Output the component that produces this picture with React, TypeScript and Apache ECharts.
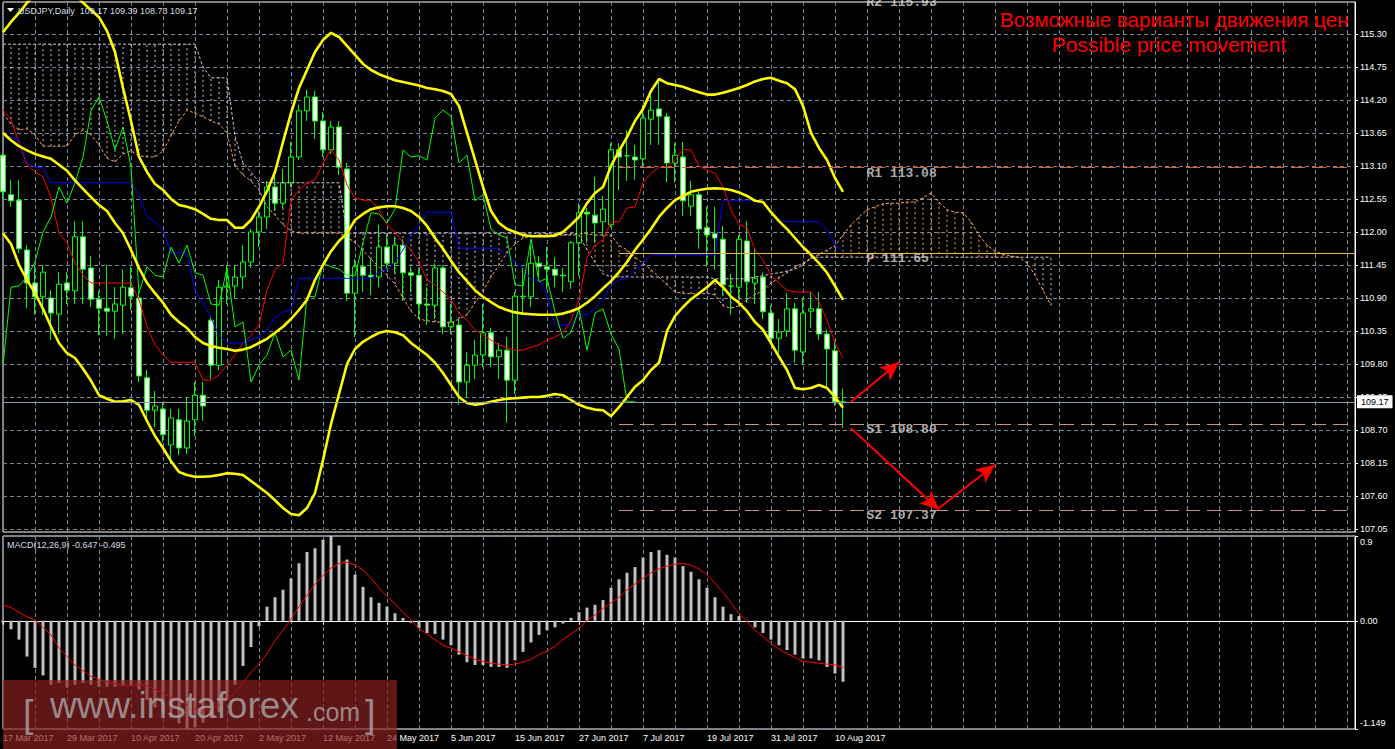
import React, { useEffect, useRef } from "react";
import * as echarts from "echarts";

// ---------- axis / tick data ----------
const dateLabels = [
  "17 Mar 2017", "29 Mar 2017", "10 Apr 2017", "20 Apr 2017", "2 May 2017", "12 May 2017",
  "24 May 2017", "5 Jun 2017", "15 Jun 2017", "27 Jun 2017", "7 Jul 2017", "19 Jul 2017",
  "31 Jul 2017", "10 Aug 2017",
];
const BARS_PER_LABEL = 8;
const TOTAL_SLOTS = 170; // 106 bars + chart shift space
const priceTicks = [107.05, 107.6, 108.15, 108.7, 109.25, 109.8, 110.35, 110.9, 111.45, 112.0, 112.55, 113.1, 113.65, 114.2, 114.75, 115.3];
const macdTicks = [-1.149, 0, 0.9];
const macdTickLabels = ["-1.149", "0.00", "0.9"];

// ---------- USDJPY daily candles (17 Mar 2017 .. 11 Aug 2017) ----------
const opens = [
  113.28, 112.62, 112.53, 111.7, 111.15, 110.92, 110.9, 110.63, 111.15, 111.02,
  111.92, 111.4, 110.88, 110.73, 110.68, 110.78, 111.07, 110.9, 109.57, 109.03,
  109.05, 108.45, 108.87, 108.4, 108.87, 109.28, 110.53, 109.78, 111.08, 111.1,
  111.25, 111.5, 112.0, 112.25, 112.75, 112.48, 112.82, 113.25, 114.02, 114.25,
  113.85, 113.37, 113.75, 113.05, 110.98, 111.42, 111.28, 111.25, 111.75, 111.48,
  111.78, 111.32, 111.28, 110.8, 110.78, 111.4, 110.42, 110.45, 109.5, 109.78,
  109.95, 110.32, 109.92, 110.03, 109.53, 110.93, 110.92, 111.48, 111.42, 111.38,
  111.28, 111.17, 111.82, 112.33, 112.28, 112.17, 112.12, 113.37, 113.27, 113.25,
  113.22, 113.88, 114.05, 113.92, 113.15, 113.25, 112.43, 112.62, 112.07, 111.97,
  111.88, 111.1, 111.08, 111.85, 111.15, 111.25, 110.65, 110.23, 110.35, 110.72,
  110.0, 110.68, 110.72, 110.3, 110.02, 109.17,
];
const closes = [
  112.67, 112.52, 111.72, 111.15, 110.92, 111.33, 110.65, 111.13, 111.03, 111.92,
  111.38, 110.88, 110.73, 110.68, 110.8, 111.08, 110.93, 109.6, 109.03, 109.1,
  108.62, 108.9, 108.4, 108.85, 109.28, 109.1, 109.78, 111.08, 111.1, 111.25,
  111.5, 112.0, 112.25, 112.75, 112.48, 112.82, 113.25, 114.02, 114.25, 113.85,
  113.37, 113.75, 113.08, 110.98, 111.42, 111.28, 111.25, 111.75, 111.48, 111.78,
  111.32, 111.28, 110.8, 110.78, 111.4, 110.42, 110.5, 109.5, 109.78, 109.95,
  110.32, 109.92, 110.03, 109.53, 110.93, 110.92, 111.48, 111.42, 111.38, 111.28,
  111.27, 111.82, 112.32, 112.3, 112.15, 112.38, 113.37, 113.25, 113.27, 113.2,
  113.9, 114.03, 113.93, 113.15, 113.28, 112.52, 112.62, 112.05, 111.95, 111.9,
  111.12, 111.1, 111.88, 111.17, 111.23, 110.67, 110.23, 110.33, 110.72, 110.03,
  110.65, 110.72, 110.3, 110.05, 109.17, 109.17,
];
const lows = [
  112.55, 112.42, 111.65, 110.73, 110.62, 110.62, 110.2, 110.3, 110.8, 110.8,
  110.8, 110.75, 110.28, 110.27, 110.22, 110.3, 110.7, 109.5, 108.9, 108.75,
  108.5, 108.13, 108.28, 108.3, 108.6, 108.85, 109.55, 109.7, 110.8, 110.9,
  111.05, 111.4, 111.75, 112.05, 112.35, 112.4, 112.75, 113.2, 113.85, 113.55,
  113.25, 113.3, 112.95, 110.85, 110.25, 111.0, 110.95, 111.08, 111.4, 111.3,
  110.85, 111.0, 110.55, 110.45, 110.55, 110.3, 110.3, 109.12, 109.25, 109.55,
  109.75, 109.75, 109.55, 108.82, 109.3, 110.62, 110.75, 111.25, 111.05, 111.08,
  111.0, 111.05, 111.27, 111.82, 111.82, 111.95, 112.08, 112.7, 112.85, 112.87,
  113.1, 113.45, 113.45, 112.83, 112.82, 112.27, 112.27, 111.72, 111.42, 111.37,
  110.95, 110.62, 110.88, 110.82, 110.8, 110.55, 110.18, 109.98, 110.25, 109.82,
  109.78, 110.4, 110.2, 109.4, 109.1, 108.73,
];
const highs = [
  113.3, 112.87, 112.87, 111.78, 111.45, 111.45, 111.03, 111.33, 111.33, 112.18,
  112.18, 111.6, 111.02, 111.45, 111.08, 111.38, 111.42, 111.0, 109.7, 109.35,
  109.15, 109.05, 109.05, 109.25, 109.5, 109.5, 110.6, 111.2, 111.45, 111.45,
  111.78, 112.05, 112.35, 112.85, 113.0, 113.05, 113.5, 114.12, 114.37, 114.35,
  114.0, 113.85, 113.85, 113.15, 111.55, 111.72, 111.55, 112.12, 111.95, 111.92,
  111.88, 111.42, 111.38, 111.08, 111.48, 111.42, 110.8, 110.55, 110.0, 110.2,
  110.8, 110.4, 110.15, 110.25, 111.0, 111.42, 111.78, 111.6, 111.75, 111.58,
  111.4, 111.85, 112.48, 112.4, 112.92, 112.6, 113.48, 113.48, 113.7, 113.45,
  114.12, 114.28, 114.5, 113.98, 113.48, 113.5, 112.85, 112.67, 112.42, 112.42,
  112.1, 111.3, 111.95, 112.18, 111.73, 111.32, 110.78, 110.55, 110.98, 110.82,
  110.9, 111.0, 111.0, 110.37, 110.2, 109.39,
];

// ---------- Bollinger bands ----------
const bbUpper = [
  115.33, 115.5, 115.65, 115.82, 115.95, 116.05, 116.12, 116.1, 116.05, 115.95,
  115.82, 115.7, 115.58, 115.35, 115.0, 114.4, 113.85, 113.25, 113.0, 112.8,
  112.7, 112.55, 112.45, 112.42, 112.38, 112.3, 112.22, 112.2, 112.2, 112.07,
  112.07, 112.2, 112.42, 112.68, 113.0, 113.5, 113.98, 114.4, 114.7, 115.0,
  115.2, 115.32, 115.25, 115.1, 114.95, 114.8, 114.7, 114.63, 114.58, 114.53,
  114.5, 114.47, 114.44, 114.4, 114.38, 114.35, 114.3, 114.1, 113.65, 113.2,
  112.75, 112.35, 112.15, 112.05, 112.0, 111.95, 111.93, 111.93, 111.93, 111.94,
  112.0, 112.12, 112.25, 112.48, 112.65, 112.75, 113.1, 113.35, 113.58, 113.85,
  114.05, 114.35, 114.55, 114.48, 114.45, 114.42, 114.37, 114.33, 114.29, 114.29,
  114.32, 114.36, 114.4, 114.45, 114.51, 114.55, 114.57, 114.52, 114.48, 114.38,
  114.1, 113.65, 113.4, 113.2, 112.9, 112.67,
];
const bbMiddle = [
  113.65, 113.53, 113.43, 113.36, 113.3, 113.26, 113.22, 113.12, 113.02, 112.86,
  112.72, 112.58, 112.45, 112.35, 112.15, 111.98, 111.7, 111.4, 111.15, 110.98,
  110.82, 110.62, 110.5, 110.4, 110.25, 110.15, 110.1, 110.07, 110.05, 110.02,
  110.04, 110.08, 110.15, 110.22, 110.32, 110.42, 110.55, 110.7, 110.87, 111.2,
  111.45, 111.68, 111.85, 111.98, 112.2, 112.3, 112.38, 112.41, 112.43, 112.43,
  112.4, 112.35, 112.25, 112.1, 111.9, 111.72, 111.52, 111.33, 111.18, 111.03,
  110.92, 110.83, 110.75, 110.7, 110.66, 110.64, 110.63, 110.62, 110.62, 110.62,
  110.64, 110.68, 110.73, 110.82, 110.93, 111.06, 111.18, 111.33, 111.5, 111.7,
  111.87, 112.05, 112.25, 112.4, 112.53, 112.6, 112.67, 112.7, 112.72, 112.73,
  112.72, 112.7, 112.66, 112.6, 112.52, 112.5, 112.33, 112.18, 112.05, 111.9,
  111.75, 111.62, 111.48, 111.32, 111.1, 110.87,
];
const bbLower = [
  111.98, 111.8, 111.45, 111.2, 110.98, 110.72, 110.42, 110.15, 109.98, 109.9,
  109.72, 109.52, 109.28, 109.22, 109.17, 109.18, 109.2, 109.12, 108.85, 108.6,
  108.4, 108.18, 108.0, 107.95, 107.92, 107.92, 107.93, 107.95, 107.98, 107.97,
  107.95, 107.85, 107.75, 107.65, 107.53, 107.4, 107.3, 107.28, 107.4, 107.65,
  108.2, 108.8, 109.3, 109.8, 110.05, 110.17, 110.25, 110.32, 110.35, 110.33,
  110.28, 110.15, 110.05, 109.95, 109.82, 109.65, 109.45, 109.25, 109.15, 109.12,
  109.14, 109.17, 109.2, 109.22, 109.23, 109.24, 109.25, 109.25, 109.27, 109.3,
  109.28, 109.2, 109.12, 109.07, 109.04, 109.03, 108.93, 109.08, 109.25, 109.42,
  109.53, 109.7, 109.82, 110.35, 110.6, 110.75, 110.88, 110.98, 111.08, 111.2,
  111.08, 110.92, 110.82, 110.68, 110.5, 110.37, 110.15, 109.92, 109.7, 109.4,
  109.38, 109.4, 109.45, 109.4, 109.25, 109.07,
];

// ---------- Ichimoku ----------
const tenkan = [
  114.03, 113.87, 113.48, 113.12, 113.0, 112.92, 112.57, 111.98, 111.82, 111.48,
  111.28, 111.15, 111.15, 111.15, 111.15, 111.15, 111.15, 110.87, 110.42, 110.12,
  109.95, 109.83, 109.83, 109.83, 109.83, 109.53, 109.53, 109.62, 109.78, 109.95,
  110.15, 110.28, 110.45, 111.03, 111.37, 111.48, 112.53, 112.7, 112.82, 112.87,
  113.15, 113.37, 113.2, 112.78, 112.57, 112.53, 112.53, 112.37, 112.12, 112.0,
  111.82, 111.7, 111.5, 111.2, 111.12, 111.0, 110.87, 110.65, 110.53, 110.37,
  110.28, 110.2, 110.12, 110.07, 110.03, 110.03, 110.08, 110.12, 110.2, 110.25,
  110.32, 110.53, 110.87, 111.57, 111.78, 111.87, 112.17, 112.17, 112.4, 112.42,
  112.82, 112.98, 113.08, 113.08, 113.2, 113.37, 113.37, 113.1, 113.03, 112.98,
  112.75, 112.37, 112.12, 112.07, 111.7, 111.53, 111.28, 111.15, 111.03, 111.0,
  111.0, 111.0, 110.83, 110.53, 110.15, 109.9,
];
const kijun = [
  113.62, 113.58, 113.53, 113.15, 113.08, 113.07, 112.82, 112.82, 112.82, 112.82,
  112.82, 112.82, 112.82, 112.82, 112.82, 112.82, 112.82, 112.62, 112.25, 112.17,
  112.03, 111.65, 111.65, 111.65, 111.03, 110.82, 110.57, 110.28, 110.15, 110.15,
  110.15, 110.2, 110.25, 110.37, 110.57, 110.67, 110.7, 111.23, 111.23, 111.23,
  111.23, 111.23, 111.23, 111.23, 111.23, 111.23, 111.23, 111.33, 111.37, 111.5,
  111.7, 111.95, 112.12, 112.33, 112.33, 112.33, 112.33, 111.73, 111.73, 111.73,
  111.73, 111.73, 111.73, 111.6, 111.5, 111.4, 111.2, 111.2, 110.95, 110.45,
  110.45, 110.45, 110.62, 110.62, 110.73, 110.87, 111.12, 111.2, 111.23, 111.37,
  111.48, 111.62, 111.62, 111.62, 111.62, 111.62, 111.62, 111.62, 111.62, 111.62,
  112.53, 112.53, 112.53, 112.53, 112.53, 112.48, 112.32, 112.2, 112.17, 112.17,
  112.17, 112.17, 112.17, 112.03, 111.78, 111.67,
];
const senkouA = [
  113.98, 113.8, 113.7, 113.72, 113.62, 113.43, 113.43, 113.43, 113.43, 113.62,
  113.7, 113.62, 113.45, 113.23, 113.17, 113.3, 113.35, 113.27, 113.25, 113.25,
  113.35, 113.6, 113.85, 114.03, 113.98, 113.92, 113.85, 113.8, 113.65, 113.1,
  112.95, 112.85, 112.7, 112.42, 112.28, 112.12, 112.02, 111.98, 111.98, 111.98,
  111.98, 111.98, 111.98, 111.92, 111.82, 111.7, 111.55, 111.42, 111.28, 111.13,
  110.9, 110.68, 110.55, 110.52, 110.5, 110.5, 110.48, 110.55, 110.62, 110.82,
  111.02, 111.25, 111.45, 111.65, 111.8, 111.9, 111.93, 111.95, 111.95, 111.95,
  111.95, 111.97, 111.98, 111.97, 111.95, 111.95, 111.95, 111.78, 111.7, 111.58,
  111.48, 111.37, 111.25, 111.12, 111.0, 110.98, 110.97, 110.97, 110.98, 110.95,
  110.77, 110.73, 110.77, 110.87, 110.95, 111.03, 111.15, 111.23, 111.32, 111.42,
  111.48, 111.55, 111.63, 111.7, 111.77, 111.95, 112.12, 112.25, 112.37, 112.42,
  112.47, 112.48, 112.48, 112.5, 112.5, 112.57, 112.65, 112.5, 112.37, 112.33,
  112.32, 112.17, 111.95, 111.78, 111.68, 111.63, 111.6, 111.58, 111.48, 111.28,
  111.03, 110.78,
];
const senkouB = [
  115.13, 115.13, 115.13, 115.13, 115.13, 115.13, 115.13, 115.13, 115.13, 115.13,
  115.13, 115.13, 115.13, 115.13, 115.13, 115.13, 115.13, 115.13, 115.13, 115.13,
  115.13, 115.13, 115.13, 115.13, 115.13, 114.75, 114.57, 114.57, 114.57, 113.6,
  113.15, 113.0, 112.83, 112.82, 112.82, 112.82, 112.82, 112.82, 112.82, 112.82,
  112.82, 112.82, 112.82, 111.98, 111.98, 111.98, 111.98, 111.98, 111.98, 111.98,
  111.98, 111.98, 111.98, 111.98, 111.98, 111.98, 111.98, 111.98, 111.98, 111.98,
  111.98, 111.98, 111.98, 111.98, 111.98, 111.98, 111.98, 111.98, 111.98, 111.98,
  111.95, 111.95, 111.95, 111.7, 111.5, 111.3, 111.25, 111.25, 111.25, 111.25,
  111.25, 111.25, 111.25, 111.25, 111.25, 111.25, 111.25, 111.25, 111.25, 111.22,
  111.22, 111.22, 111.22, 111.22, 111.25, 111.27, 111.3, 111.32, 111.35, 111.38,
  111.45, 111.58, 111.58, 111.58, 111.58, 111.58, 111.58, 111.58, 111.58, 111.58,
  111.58, 111.58, 111.58, 111.58, 111.58, 111.58, 111.58, 111.58, 111.58, 111.58,
  111.58, 111.58, 111.58, 111.58, 111.58, 111.58, 111.58, 111.58, 111.58, 111.58,
  111.58, 111.58,
];
const CHIKOU_SHIFT = 26;

// ---------- MACD(12,26,9) ----------
const macdMain = [
  -0.02, -0.09, -0.2, -0.38, -0.5, -0.58, -0.68, -0.66, -0.71, -0.68,
  -0.66, -0.68, -0.7, -0.7, -0.7, -0.68, -0.68, -0.73, -0.84, -0.92,
  -0.98, -1.03, -1.09, -1.149, -1.13, -1.08, -1.03, -0.97, -0.84, -0.68,
  -0.48, -0.28, -0.06, 0.15, 0.25, 0.33, 0.45, 0.61, 0.73, 0.77,
  0.86, 0.9, 0.8, 0.65, 0.49, 0.36, 0.25, 0.19, 0.15, 0.08,
  0.03, -0.02, -0.08, -0.13, -0.14, -0.2, -0.26, -0.36, -0.44, -0.47,
  -0.47, -0.49, -0.49, -0.5, -0.42, -0.33, -0.23, -0.15, -0.1, -0.07,
  -0.03, 0.03, 0.09, 0.14, 0.17, 0.22, 0.35, 0.44, 0.51, 0.57,
  0.67, 0.73, 0.75, 0.7, 0.67, 0.58, 0.52, 0.44, 0.35, 0.25,
  0.15, 0.07, 0.05, -0.01, -0.07, -0.13, -0.2, -0.26, -0.31, -0.36,
  -0.4, -0.4, -0.42, -0.49, -0.56, -0.647,
];
const macdSignal = [
  0.17, 0.14, 0.09, 0.04, 0.01, -0.07, -0.15, -0.29, -0.38, -0.47,
  -0.53, -0.59, -0.62, -0.65, -0.67, -0.69, -0.69, -0.68, -0.69, -0.73,
  -0.77, -0.81, -0.85, -0.89, -0.93, -0.95, -0.94, -0.89, -0.84, -0.76,
  -0.66, -0.55, -0.46, -0.35, -0.21, -0.1, 0.02, 0.15, 0.27, 0.39,
  0.48, 0.56, 0.61, 0.62, 0.59, 0.54, 0.45, 0.35, 0.26, 0.18,
  0.09, 0.01, -0.08, -0.14, -0.2, -0.26, -0.29, -0.33, -0.37, -0.41,
  -0.43, -0.45, -0.46, -0.47, -0.46, -0.44, -0.41, -0.36, -0.32, -0.27,
  -0.2, -0.14, -0.08, 0.0, 0.06, 0.13, 0.19, 0.25, 0.33, 0.39,
  0.45, 0.51, 0.55, 0.58, 0.6, 0.61, 0.59, 0.55, 0.49, 0.4,
  0.3, 0.19, 0.08, -0.01, -0.1, -0.17, -0.24, -0.3, -0.35, -0.39,
  -0.43, -0.44, -0.45, -0.46, -0.47, -0.495,
];

// ---------- pivots, price, annotations ----------
const pivotNames = ["R2", "R1", "P", "S1", "S2"];
const pivotValues = [115.93, 113.08, 111.65, 108.8, 107.37];
const pivotStartIndex = 77;
const pivotLabelIndex = 108;
const lastQuote = { open: 109.17, high: 109.39, low: 108.73, close: 109.17 };
const macdLegend = { fast: 12, slow: 26, signal: 9, main: -0.647, sig: -0.495 };
const arrows = [
  [[106, 109.17], [112, 109.83]],
  [[106, 108.73], [117, 107.37]],
  [[117, 107.4], [124, 108.12]],
];

const GRID_COLOR = "#778899";
const SANDY = "#f4a460";
const THISTLE = "#d8bfd8";
const FONT = '"Liberation Sans", Arial, sans-serif';

export default function App() {
  const ref = useRef<HTMLDivElement>(null);

  useEffect(() => {
    if (!ref.current) return;
    const chart = echarts.init(ref.current, null, { renderer: "svg" });

    const cats = Array.from({ length: TOTAL_SLOTS }, (_, i) => String(i));
    const candleData = opens.map((o, i) => [o, closes[i], lows[i], highs[i]]);
    const cloudData = senkouA.map((a, i) => [i, a, senkouB[i]]);
    const chikou = closes.slice(CHIKOU_SHIFT);
    const isLabelSlot = (i: number) => i % BARS_PER_LABEL === 0 && i / BARS_PER_LABEL < dateLabels.length;
    const splitLine = { show: true, interval: 3, lineStyle: { color: GRID_COLOR, type: [4, 3], width: 1 } };

    const line = (data: number[], color: string, width: number, dash?: number[]) => ({
      type: "line",
      xAxisIndex: 0,
      yAxisIndex: 0,
      data,
      symbol: "none",
      silent: true,
      lineStyle: { color, width, type: dash || "solid" },
    });

    const pivotLineStyles = [
      { color: "#d2603a", type: [14, 7], width: 1 },
      { color: "#d2603a", type: [14, 7], width: 1 },
      { color: "#e8b840", type: "solid", width: 1 },
      { color: "#c9918a", type: [14, 7], width: 1 },
      { color: "#c9918a", type: [14, 7], width: 1 },
    ];

    const markLineData: any[] = [
      {
        yAxis: lastQuote.close,
        lineStyle: { color: "#8c9bab", type: "solid", width: 1 },
        label: {
          show: true,
          position: "end",
          distance: 2,
          formatter: lastQuote.close.toFixed(2),
          backgroundColor: "#ffffff",
          color: "#000000",
          padding: [2, 4],
          fontSize: 9,
          fontFamily: FONT,
        },
      },
    ];
    pivotValues.forEach((v, i) => {
      if (i === 0) return; // R2 is above the visible range
      markLineData.push([
        { coord: [pivotStartIndex, v], lineStyle: pivotLineStyles[i] },
        { coord: [TOTAL_SLOTS - 1, v] },
      ]);
    });
    arrows.forEach(([from, to]) => {
      markLineData.push([
        { coord: from, lineStyle: { color: "#ff0000", width: 2, type: "solid" } },
        { coord: to, symbol: "arrow", symbolSize: [13, 19] },
      ]);
    });

    const headerText = `USDJPY,Daily  ${lastQuote.open.toFixed(2)} ${lastQuote.high.toFixed(2)} ${lastQuote.low.toFixed(2)} ${lastQuote.close.toFixed(2)}`;
    const macdText = `MACD(${macdLegend.fast},${macdLegend.slow},${macdLegend.signal}) ${macdLegend.main.toFixed(3)} ${macdLegend.sig.toFixed(3)}`;

    const option: any = {
      animation: false,
      backgroundColor: "#000000",
      grid: [
        { left: 3, top: 2, width: 1352, height: 530, show: true, borderColor: "#ffffff", borderWidth: 1, backgroundColor: "transparent" },
        { left: 3, top: 536, width: 1352, height: 193, show: true, borderColor: "#ffffff", borderWidth: 1, backgroundColor: "transparent" },
      ],
      xAxis: [
        {
          type: "category",
          gridIndex: 0,
          data: cats,
          boundaryGap: false,
          axisLine: { show: false },
          axisTick: { show: false },
          axisLabel: { show: false },
          splitLine,
        },
        {
          type: "category",
          gridIndex: 1,
          data: cats,
          boundaryGap: false,
          axisLine: { show: true, lineStyle: { color: "#ffffff" } },
          axisTick: { show: true, interval: (i: number) => isLabelSlot(i), length: 4, lineStyle: { color: "#ffffff" } },
          axisLabel: {
            show: true,
            interval: (i: number) => isLabelSlot(i),
            formatter: (_v: string, i: number) => (isLabelSlot(i) ? dateLabels[i / BARS_PER_LABEL] : ""),
            color: "#ffffff",
            fontSize: 9,
            fontFamily: FONT,
            align: "left",
            margin: 4,
          },
          splitLine,
        },
      ],
      yAxis: [
        {
          type: "value",
          gridIndex: 0,
          position: "right",
          min: 107.0,
          max: 115.833,
          axisLine: { show: true, lineStyle: { color: "#ffffff" } },
          axisTick: { show: true, length: 3, customValues: priceTicks, lineStyle: { color: "#ffffff" } },
          axisLabel: {
            customValues: priceTicks,
            formatter: (v: number) => v.toFixed(2),
            color: "#ffffff",
            fontSize: 9,
            fontFamily: FONT,
            margin: 5,
          },
          splitLine: { show: true, lineStyle: { color: GRID_COLOR, type: [4, 3], width: 1 } },
        },
        {
          type: "value",
          gridIndex: 1,
          position: "right",
          min: macdTicks[0],
          max: macdTicks[2],
          axisLine: { show: true, lineStyle: { color: "#ffffff" } },
          axisTick: { show: true, length: 3, customValues: macdTicks, lineStyle: { color: "#ffffff" } },
          axisLabel: {
            customValues: macdTicks,
            formatter: (v: number) => {
              const k = macdTicks.findIndex((t) => Math.abs(t - v) < 1e-6);
              const txt = k >= 0 ? macdTickLabels[k] : "";
              if (k === 2) return `{top|${txt}}`;
              if (k === 0) return `{bot|${txt}}`;
              return `{mid|${txt}}`;
            },
            color: "#ffffff",
            fontSize: 9,
            fontFamily: FONT,
            margin: 5,
            rich: {
              top: { color: "#ffffff", fontSize: 9, fontFamily: FONT, padding: [12, 0, 0, 0] },
              mid: { color: "#ffffff", fontSize: 9, fontFamily: FONT },
              bot: { color: "#ffffff", fontSize: 9, fontFamily: FONT, padding: [0, 0, 13, 0] },
            },
          },
          splitLine: { show: true, lineStyle: { color: GRID_COLOR, type: [4, 3], width: 1 } },
        },
      ],
      series: [
        {
          type: "candlestick",
          name: "USDJPY",
          xAxisIndex: 0,
          yAxisIndex: 0,
          data: candleData,
          barWidth: 5,
          silent: true,
          itemStyle: {
            color: "#000000",
            color0: "#ffffff",
            borderColor: "#00ff00",
            borderColor0: "#00ff00",
            borderWidth: 1,
          },
          markLine: {
            silent: true,
            animation: false,
            symbol: ["none", "none"],
            label: { show: false },
            data: markLineData,
          },
        },
        {
          type: "custom",
          name: "Kumo",
          xAxisIndex: 0,
          yAxisIndex: 0,
          silent: true,
          clip: true,
          data: cloudData,
          encode: { x: 0, y: [1, 2] },
          renderItem: (_p: any, api: any) => {
            const i = api.value(0);
            const a = api.value(1);
            const b = api.value(2);
            const p1 = api.coord([i, a]);
            const p2 = api.coord([i, b]);
            return {
              type: "line",
              shape: { x1: p1[0], y1: p1[1], x2: p2[0], y2: p2[1] },
              style: { stroke: a >= b ? SANDY : THISTLE, lineWidth: 1, lineDash: [2, 3] },
            };
          },
        },
        line(senkouA, SANDY, 1, [3, 2]),
        line(senkouB, THISTLE, 1, [3, 2]),
        line(tenkan, "#ff0000", 1),
        line(kijun, "#0000ff", 1),
        line(chikou, "#00ff00", 1),
        line(bbUpper, "#ffff00", 2.6),
        line(bbMiddle, "#ffff00", 2.6),
        line(bbLower, "#ffff00", 2.6),
        {
          type: "scatter",
          name: "Pivots",
          xAxisIndex: 0,
          yAxisIndex: 0,
          symbolSize: 1,
          silent: true,
          clip: false,
          itemStyle: { color: "rgba(0,0,0,0)" },
          data: pivotNames.map((n, i) => ({ name: n, value: [pivotLabelIndex, pivotValues[i]] })),
          label: {
            show: true,
            position: [0, 0],
            align: "left",
            verticalAlign: "top",
            formatter: (p: any) => `${p.name} ${p.value[1].toFixed(2)}`,
            color: "#dcdcdc",
            fontFamily: '"Liberation Mono", monospace',
            fontWeight: "bold",
            fontSize: 13,
          },
        },
        {
          type: "bar",
          name: "MACD",
          xAxisIndex: 1,
          yAxisIndex: 1,
          data: macdMain,
          barWidth: 3,
          silent: true,
          itemStyle: { color: "#c0c0c0" },
        },
        {
          type: "line",
          name: "Signal",
          xAxisIndex: 1,
          yAxisIndex: 1,
          data: macdSignal,
          symbol: "none",
          silent: true,
          lineStyle: { color: "#ff0000", width: 1 },
        },
      ],
      graphic: [
        { type: "polygon", shape: { points: [[7, 8], [14, 8], [10.5, 12]] }, style: { fill: "#ffffff" }, z: 50 },
        { type: "text", x: 18, y: 11, z: 50, style: { text: headerText, fill: "#d8dde3", font: `9px ${FONT}`, verticalAlign: "middle" } },
        { type: "text", x: 7, y: 545, z: 50, style: { text: macdText, fill: "#d8dde3", font: `9px ${FONT}`, verticalAlign: "middle" } },
        { type: "text", x: 1000, y: 19, z: 50, style: { text: "Возможные варианты движения цен", fill: "#ff0000", font: `20.6px ${FONT}`, verticalAlign: "middle" } },
        { type: "text", x: 1169, y: 44, z: 50, style: { text: "Possible price movement", fill: "#ff0000", font: `21px ${FONT}`, align: "center", verticalAlign: "middle" } },
        {
          type: "group",
          z: 100,
          children: [
            { type: "rect", shape: { x: 3, y: 680, width: 394, height: 69 }, style: { fill: "rgba(140,32,32,0.68)" }, z: 100 },
            { type: "text", x: 23, y: 714, z: 101, style: { text: "[", fill: "rgba(175,175,175,0.75)", font: `38px ${FONT}`, verticalAlign: "middle" } },
            { type: "text", x: 50, y: 724, z: 101, style: { text: "www.instaforex", fill: "rgba(175,175,175,0.75)", font: `37px ${FONT}`, verticalAlign: "bottom" } },
            { type: "text", x: 306, y: 724, z: 101, style: { text: ".com", fill: "rgba(175,175,175,0.75)", font: `25px ${FONT}`, verticalAlign: "bottom" } },
            { type: "text", x: 365, y: 714, z: 101, style: { text: "]", fill: "rgba(175,175,175,0.75)", font: `38px ${FONT}`, verticalAlign: "middle" } },
          ],
        },
      ],
    };

    chart.setOption(option);
    return () => chart.dispose();
  }, []);

  return (
    <div
      ref={ref}
      style={{ position: "fixed", left: 0, top: 0, width: 1395, height: 749, background: "#000000" }}
    />
  );
}
